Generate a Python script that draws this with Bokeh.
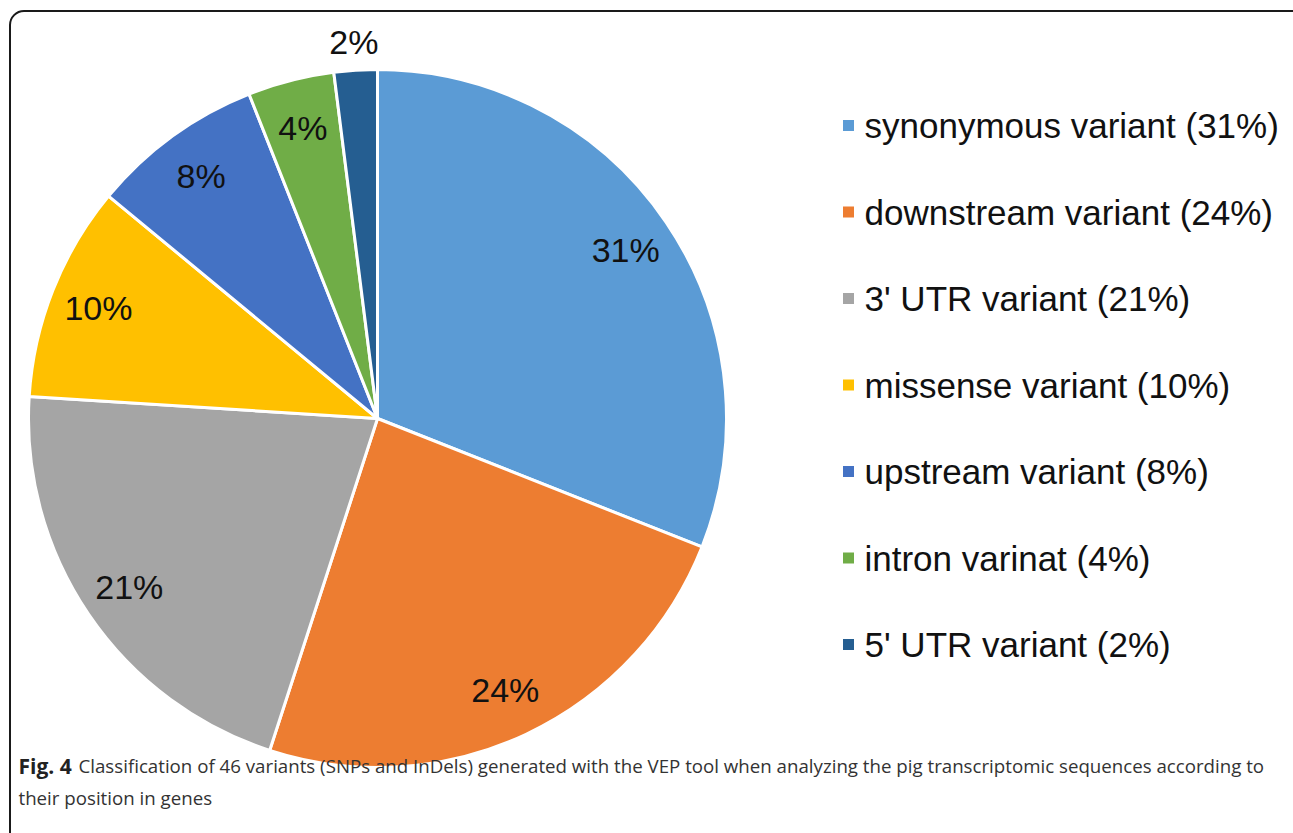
import math
from bokeh.plotting import figure
from bokeh.models import Range1d, ColumnDataSource, BoxAnnotation, Label
from bokeh.core.properties import value
from bokeh.embed import file_html
from bokeh.resources import INLINE

categories = ["synonymous variant", "downstream variant", "3' UTR variant",
              "missense variant", "upstream variant", "intron varinat", "5' UTR variant"]
percents = [31, 24, 21, 10, 8, 4, 2]
colors = ["#5B9BD5", "#ED7D31", "#A5A5A5", "#FFC000", "#4472C4", "#70AD47", "#255E91"]
caption_bold = "Fig. 4"
caption_line1 = "Classification of 46 variants (SNPs and InDels) generated with the VEP tool when analyzing the pig transcriptomic sequences according to"
caption_line2 = "their position in genes"

W, H = 1293, 833
p = figure(width=W, height=H, output_backend="svg", toolbar_location=None,
           x_range=Range1d(0, W), y_range=Range1d(0, H), min_border=0)
p.axis.visible = False
p.grid.visible = False
p.outline_line_color = None
p.background_fill_color = "white"
p.border_fill_color = "white"

# frame
p.add_layout(BoxAnnotation(left=9.5, right=1306, top=H - 10.5, bottom=-30,
                           fill_alpha=0, line_color="#1a1a1a", line_alpha=1.0,
                           line_width=2, border_radius=14))

cx, cy, r = 377, H - 418, 349
total = sum(percents)
starts, ends, mids = [], [], []
cum = 0
for v in percents:
    a0 = cum / total
    cum += v
    a1 = cum / total
    starts.append(math.pi / 2 - a1 * 2 * math.pi)
    ends.append(math.pi / 2 - a0 * 2 * math.pi)
    mids.append(math.pi / 2 - (a0 + a1) / 2 * 2 * math.pi)

src = ColumnDataSource(dict(start=starts, end=ends, color=colors))
p.wedge(x=cx, y=cy, radius=r, start_angle="start", end_angle="end",
        fill_color="color", line_color="white", line_width=3, source=src)

# slice labels
lx, ly, lt = [], [], []
for v, m in zip(percents, mids):
    rr = r * 0.86 if v > 2 else r * 1.08
    lx.append(cx + rr * math.cos(m))
    ly.append(cy + rr * math.sin(m))
    lt.append(f"{v}%")
p.text(x=lx, y=ly, text=lt, text_align="center", text_baseline="middle",
       text_font=value("Liberation Sans"), text_font_size="34px", text_color="#111111")

# legend
leg_y = [H - 125 - 86.5 * i for i in range(len(categories))]
p.scatter(x=[848] * len(categories), y=leg_y, marker="square", size=11,
          fill_color=colors, line_color=None)
p.text(x=[864] * len(categories), y=leg_y,
       text=[f"{c} ({v}%)" for c, v in zip(categories, percents)],
       text_align="left", text_baseline="middle",
       text_font=value("Liberation Sans"), text_font_size="35px", text_color="#111111")

# caption
p.add_layout(Label(x=18, y=H - 765, text=caption_bold, text_baseline="middle",
                   text_font="Open Sans", text_font_style="bold", text_font_size="21px",
                   text_color="#222222"))
p.add_layout(Label(x=78, y=H - 765, text=caption_line1, text_baseline="middle",
                   text_font="Open Sans", text_font_size="18.7px", text_color="#333333"))
p.add_layout(Label(x=18, y=H - 797, text=caption_line2, text_baseline="middle",
                   text_font="Open Sans", text_font_size="18.7px", text_color="#333333"))

open("out.html", "w").write(file_html(p, INLINE))
